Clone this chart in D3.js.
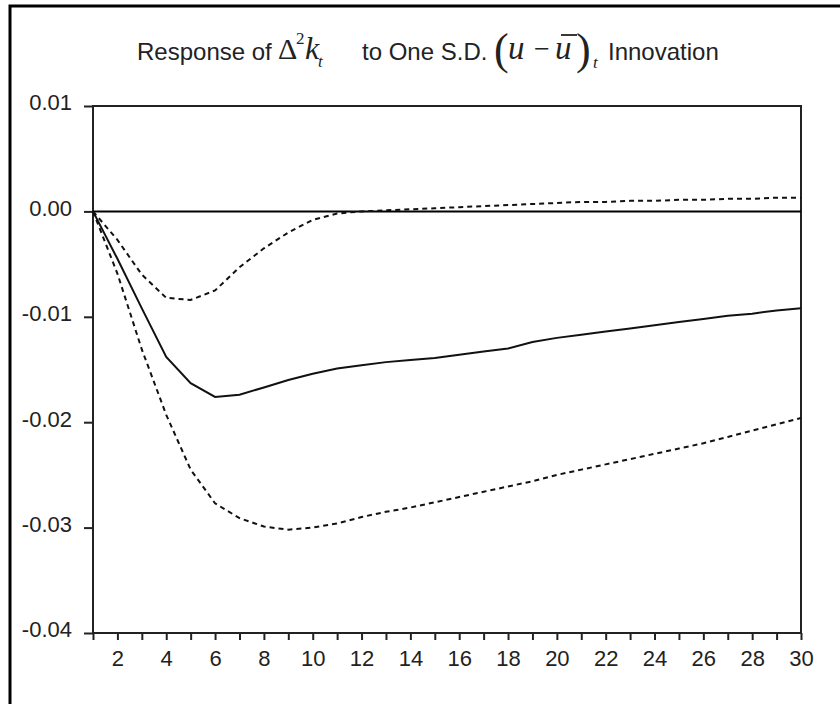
<!DOCTYPE html>
<html>
<head>
<meta charset="utf-8">
<script src="https://cdn.jsdelivr.net/npm/d3@7"></script>
<style>
  body { margin: 0; background: #fff; }
  svg { display: block; }
  .tick text { font-family: "Liberation Sans", Arial, sans-serif; font-size: 22px; fill: #222; }
</style>
</head>
<body>
<svg width="840" height="704"></svg>
<script>
// impulse response periods and values
var periods = [1, 2, 3, 4, 5, 6, 7, 8, 9, 10, 11, 12, 13, 14, 15,
               16, 17, 18, 19, 20, 21, 22, 23, 24, 25, 26, 27, 28, 29, 30];

var response = [0, -0.0045, -0.0092, -0.0138, -0.0163, -0.0176, -0.0174, -0.0167, -0.0160, -0.0154,
                -0.0149, -0.0146, -0.0143, -0.0141, -0.0139, -0.0136, -0.0133, -0.0130, -0.0124, -0.0120,
                -0.0117, -0.0114, -0.0111, -0.0108, -0.0105, -0.0102, -0.0099, -0.0097, -0.0094, -0.0092];

var upper = [0, -0.0027, -0.0060, -0.0082, -0.0084, -0.0075, -0.0053, -0.0035, -0.0020, -0.0008,
             -0.0002, 0.0000, 0.0001, 0.0002, 0.0003, 0.0004, 0.0005, 0.0006, 0.0007, 0.0008,
             0.0009, 0.0009, 0.0010, 0.0010, 0.0011, 0.0011, 0.0012, 0.0012, 0.0013, 0.0013];

var lower = [0, -0.0059, -0.0131, -0.0193, -0.0245, -0.0277, -0.0291, -0.0299, -0.0302, -0.0300,
             -0.0296, -0.0290, -0.0285, -0.0281, -0.0276, -0.0271, -0.0266, -0.0261, -0.0256, -0.0250,
             -0.0245, -0.0240, -0.0235, -0.0230, -0.0225, -0.0220, -0.0214, -0.0208, -0.0202, -0.0196];

var yTicks = [0.01, 0.00, -0.01, -0.02, -0.03, -0.04];
var yTickLabels = ["0.01", "0.00", "-0.01", "-0.02", "-0.03", "-0.04"];
var xTickLabels = [2, 4, 6, 8, 10, 12, 14, 16, 18, 20, 22, 24, 26, 28, 30];

var svg = d3.select("svg");

var plotLeft = 93, plotRight = 801, plotTop = 106, plotBottom = 633;

var x = d3.scaleLinear().domain([1, 30]).range([plotLeft, plotRight]);
var y = d3.scaleLinear().domain([-0.04, 0.01]).range([plotBottom, plotTop]);

// outer frame (runs off the right and bottom edge)
svg.append("rect")
    .attr("x", 10).attr("y", 6)
    .attr("width", 900).attr("height", 900)
    .attr("fill", "none")
    .attr("stroke", "#000")
    .attr("stroke-width", 3);

// title
var title = svg.append("g")
    .attr("fill", "#222");

function piece(px, py, txt, font, size, style) {
    return title.append("text")
        .attr("x", px).attr("y", py)
        .attr("font-family", font)
        .attr("font-size", size)
        .attr("font-style", style || "normal")
        .text(txt);
}

var sans = "'Liberation Sans', Arial, sans-serif";
var serif = "'Liberation Serif', 'Times New Roman', serif";

piece(137, 60, "Response of", sans, 24);
piece(278, 59, "\u0394", serif, 30);
piece(296, 44, "2", serif, 17);
piece(305, 59, "k", serif, 32, "italic");
piece(318, 67, "t", serif, 17, "italic");
piece(362, 60, "to One S.D.", sans, 24);
piece(494, 64, "(", serif, 44);
piece(508, 59, "u", serif, 33, "italic");
piece(534, 58, "\u2212", serif, 28);
piece(555, 59, "u", serif, 33, "italic");
piece(576, 64, ")", serif, 44);
piece(593, 68, "t", serif, 17, "italic");
piece(608, 60, "Innovation", sans, 24);

// bar over the second u
title.append("line")
    .attr("x1", 561).attr("x2", 577)
    .attr("y1", 35).attr("y2", 35)
    .attr("stroke", "#222")
    .attr("stroke-width", 1.8);

// axes
var xAxis = d3.axisBottom(x)
    .tickValues(periods)
    .tickSize(7)
    .tickPadding(10)
    .tickFormat(function (d) { return xTickLabels.indexOf(d) >= 0 ? d : ""; });

var yAxis = d3.axisLeft(y)
    .tickValues(yTicks)
    .tickSize(9)
    .tickPadding(12)
    .tickFormat(function (d, i) { return yTickLabels[i]; });

var gx = svg.append("g")
    .attr("transform", "translate(0," + plotBottom + ")")
    .call(xAxis);

var gy = svg.append("g")
    .attr("transform", "translate(" + plotLeft + ",0)")
    .call(yAxis);

gx.select(".domain").remove();
gy.select(".domain").remove();
gx.selectAll(".tick line").attr("stroke", "#222").attr("stroke-width", 2);
gy.selectAll(".tick line").attr("stroke", "#222").attr("stroke-width", 2);
gy.selectAll(".tick text").attr("dy", "0.18em");

// plot box
svg.append("rect")
    .attr("x", plotLeft).attr("y", plotTop)
    .attr("width", plotRight - plotLeft).attr("height", plotBottom - plotTop)
    .attr("fill", "none")
    .attr("stroke", "#222")
    .attr("stroke-width", 2);

// zero line
svg.append("line")
    .attr("x1", x(1)).attr("x2", x(30))
    .attr("y1", y(0)).attr("y2", y(0))
    .attr("stroke", "#000")
    .attr("stroke-width", 2);

var line = d3.line()
    .x(function (d, i) { return x(periods[i]); })
    .y(function (d) { return y(d); });

svg.append("path")
    .datum(upper)
    .attr("d", line)
    .attr("fill", "none")
    .attr("stroke", "#111")
    .attr("stroke-width", 2)
    .attr("stroke-dasharray", "5,4");

svg.append("path")
    .datum(lower)
    .attr("d", line)
    .attr("fill", "none")
    .attr("stroke", "#111")
    .attr("stroke-width", 2)
    .attr("stroke-dasharray", "5,4");

svg.append("path")
    .datum(response)
    .attr("d", line)
    .attr("fill", "none")
    .attr("stroke", "#111")
    .attr("stroke-width", 2);
</script>
</body>
</html>
